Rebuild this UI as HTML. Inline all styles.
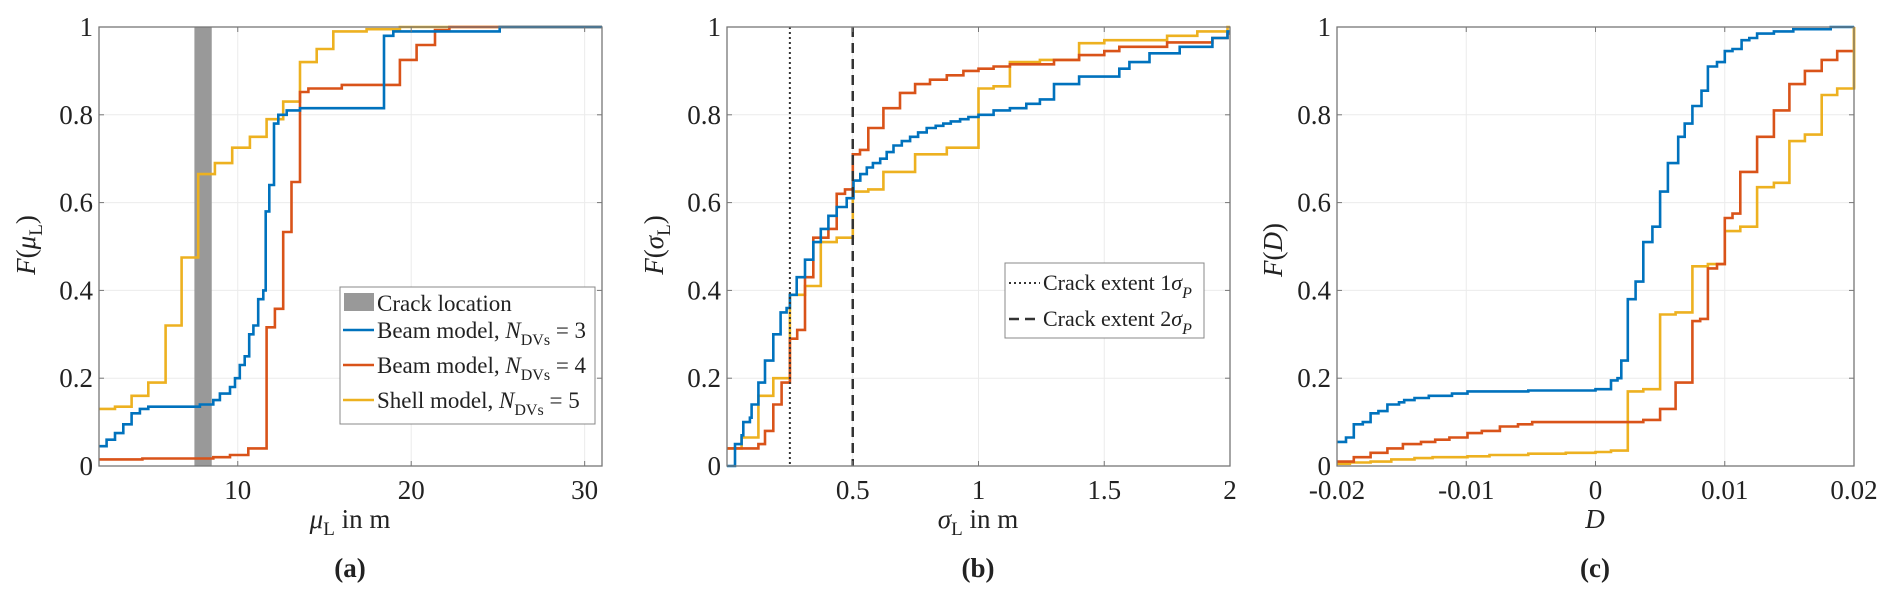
<!DOCTYPE html>
<html><head><meta charset="utf-8"><style>
body{margin:0;background:#fff}
svg{display:block}
text{font-family:"Liberation Serif",serif;fill:#222}
</style></head><body>
<svg id="fig" width="1892" height="610" viewBox="0 0 1892 610"></svg>
<script>
// ---------- data ----------
const aTicksX=[10,20,30];
const aBlueX=[2,2.44,2.92,3.4,3.88,4.36,4.84,7.82,8.59,8.97,9.55,9.84,10.12,10.4,10.66,10.9,11.18,11.47,11.61,11.82,12.09,12.34,12.82,13.59,18.43,18.97,25.1];
const aBlueF=[0.045,0.06,0.075,0.095,0.12,0.13,0.135,0.14,0.15,0.165,0.18,0.2,0.23,0.25,0.30,0.32,0.38,0.40,0.58,0.64,0.78,0.80,0.81,0.815,0.98,0.99,1.0];
const aRedX=[2,4.5,8.59,9.55,10.61,11.66,12.14,12.62,13.1,13.59,14.07,16,19.35,20.31,21.37,22.2];
const aRedF=[0.015,0.017,0.02,0.025,0.04,0.316,0.358,0.533,0.647,0.852,0.86,0.868,0.925,0.959,0.993,1.0];
const aYelX=[2,2.92,3.88,4.84,5.84,6.76,7.72,8.68,9.68,10.7,11.66,12.62,13.59,14.55,15.51,17.43,19.35];
const aYelF=[0.13,0.135,0.16,0.19,0.32,0.475,0.665,0.69,0.725,0.75,0.79,0.83,0.92,0.95,0.99,0.995,1.0];
const crackBand=[7.5,8.5];

const bTicksX=[0.5,1,1.5,2];
const bBlueX=[0,0.032,0.058,0.065,0.091,0.098,0.125,0.151,0.184,0.213,0.237,0.25,0.277,0.31,0.343,0.373,0.403,0.436,0.476,0.503,0.53,0.556,0.58,0.609,0.635,0.662,0.695,0.728,0.76,0.794,0.83,0.86,0.89,0.927,0.96,1.0,1.06,1.125,1.19,1.244,1.30,1.40,1.56,1.6,1.68,1.8,1.93,1.99];
const bBlueF=[0,0.05,0.07,0.1,0.11,0.14,0.19,0.24,0.30,0.35,0.36,0.39,0.43,0.47,0.51,0.54,0.57,0.59,0.61,0.65,0.665,0.68,0.69,0.70,0.715,0.73,0.74,0.75,0.76,0.77,0.775,0.78,0.785,0.79,0.795,0.80,0.81,0.815,0.825,0.835,0.87,0.887,0.905,0.92,0.94,0.955,0.975,0.99];
const bRedX=[0,0.125,0.151,0.184,0.217,0.25,0.279,0.31,0.343,0.403,0.436,0.469,0.5,0.529,0.562,0.622,0.688,0.748,0.807,0.874,0.94,1.0,1.06,1.125,1.3,1.40,1.50,1.56,1.75,1.93,1.99];
const bRedF=[0.04,0.05,0.08,0.14,0.19,0.29,0.31,0.43,0.52,0.54,0.62,0.63,0.71,0.72,0.77,0.815,0.85,0.87,0.88,0.89,0.90,0.905,0.91,0.915,0.925,0.936,0.945,0.955,0.965,0.975,0.985];
const bYelX=[0,0.058,0.125,0.184,0.25,0.31,0.373,0.436,0.5,0.562,0.622,0.748,0.874,1.0,1.06,1.125,1.244,1.40,1.5,1.75,1.87,1.99];
const bYelF=[0.04,0.065,0.16,0.20,0.39,0.41,0.51,0.52,0.625,0.63,0.67,0.71,0.725,0.86,0.865,0.92,0.925,0.963,0.97,0.98,0.99,1.0];
const crackExtent=[0.25,0.5];

const cTicksX=[-0.02,-0.01,0,0.01,0.02];
const cBlueX=[-0.02,-0.0193,-0.0187,-0.018,-0.0174,-0.0168,-0.0161,-0.0152,-0.0148,-0.014,-0.0129,-0.0111,-0.0099,-0.0052,0.0,0.0012,0.0017,0.0020,0.0025,0.0031,0.0037,0.0044,0.005,0.0056,0.0064,0.0069,0.0075,0.0082,0.0087,0.0094,0.01,0.0106,0.0113,0.0119,0.0125,0.0138,0.0153,0.0182];
const cBlueF=[0.055,0.065,0.095,0.10,0.12,0.125,0.14,0.145,0.15,0.155,0.16,0.165,0.17,0.172,0.175,0.195,0.2,0.24,0.38,0.42,0.51,0.545,0.625,0.69,0.75,0.78,0.82,0.855,0.91,0.92,0.945,0.95,0.97,0.975,0.985,0.99,0.995,1.0];
const cRedX=[-0.02,-0.0187,-0.0174,-0.0161,-0.0149,-0.0135,-0.0124,-0.0113,-0.0099,-0.0088,-0.0074,-0.006,-0.0049,0.0037,0.005,0.0062,0.0075,0.0081,0.0087,0.0094,0.01,0.0106,0.0112,0.0125,0.0138,0.015,0.0162,0.0175,0.0187];
const cRedF=[0.01,0.02,0.03,0.04,0.05,0.055,0.06,0.065,0.075,0.08,0.09,0.095,0.1,0.105,0.13,0.19,0.33,0.335,0.45,0.46,0.565,0.575,0.67,0.75,0.81,0.87,0.9,0.925,0.945];
const cYelX=[-0.02,-0.019,-0.0174,-0.0158,-0.014,-0.0126,-0.0099,-0.0082,-0.0052,-0.0023,0.0,0.0012,0.0025,0.0037,0.005,0.0062,0.0075,0.0087,0.01,0.0112,0.0125,0.0138,0.015,0.0162,0.0175,0.0187,0.02];
const cYelF=[0.005,0.008,0.01,0.015,0.018,0.02,0.022,0.025,0.028,0.03,0.032,0.035,0.17,0.175,0.345,0.35,0.455,0.46,0.535,0.545,0.635,0.645,0.74,0.755,0.845,0.86,1.0];

const yTicks=[0,0.2,0.4,0.6,0.8,1];
const yTickLabels=["0","0.2","0.4","0.6","0.8","1"];

const BLUE="#0072BD",RED="#D95319",YEL="#EDB120";
const NS="http://www.w3.org/2000/svg";
const svg=document.getElementById('fig');
function mk(tag,attrs,parent){const e=document.createElementNS(NS,tag);for(const k in attrs)e.setAttribute(k,attrs[k]);(parent||svg).appendChild(e);return e;}

const TOP=27,BOT=466,FS=27;
function panel(id,left,right,xmin,xmax,xticks,xfmt){
  const g=mk('g',{});
  
  
  const sx=v=>left+(v-xmin)/(xmax-xmin)*(right-left);
  const sy=v=>BOT-v*(BOT-TOP);
  yTicks.forEach(t=>{const l=mk('line',{x1:left,x2:right,y1:sy(t),y2:sy(t),stroke:'#ebebeb','stroke-width':1},g);
    });
  xticks.forEach(t=>{const l=mk('line',{x1:sx(t),x2:sx(t),y1:TOP,y2:BOT,stroke:'#ebebeb','stroke-width':1},g);
    });
  return {g,sx,sy,left,right,xticks,xfmt};
}
function frame(p){
  const {g,sx,sy,left,right,xticks,xfmt}=p;
  const r=mk('rect',{x:left,y:TOP,width:right-left,height:BOT-TOP,fill:'none',stroke:'#777','stroke-width':1.3},g);
  
  yTicks.forEach((t,i)=>{
    mk('line',{x1:left,x2:left+5,y1:sy(t),y2:sy(t),stroke:'#777'},g);
    mk('line',{x1:right,x2:right-5,y1:sy(t),y2:sy(t),stroke:'#777'},g);
    const tx=mk('text',{x:left-6,y:sy(t)+9,'text-anchor':'end','font-size':FS},g);
    tx.textContent=yTickLabels[i];
    
  });
  xticks.forEach(t=>{
    mk('line',{x1:sx(t),x2:sx(t),y1:BOT,y2:BOT-5,stroke:'#777'},g);
    mk('line',{x1:sx(t),x2:sx(t),y1:TOP,y2:TOP+5,stroke:'#777'},g);
    const tx=mk('text',{x:sx(t),y:BOT+33,'text-anchor':'middle','font-size':FS},g);
    tx.textContent=xfmt(t);
    
  });
}
function stairs(p,xs,fs,xmaxv,color,name){
  let d='';
  for(let i=0;i<xs.length;i++){
    const x0=p.sx(xs[i]),y=p.sy(fs[i]);
    const x1=p.sx(i+1<xs.length?xs[i+1]:xmaxv);
    d+=(i===0?'M':'L')+x0.toFixed(1)+','+y.toFixed(1)+'L'+x1.toFixed(1)+','+y.toFixed(1);
  }
  const e=mk('path',{d:d,fill:'none',stroke:color,'stroke-width':2.6},p.g);
  
  
}
function label(x,y,html,size,name,rot,weight){
  const t=mk('text',{x:x,y:y,'text-anchor':'middle','font-size':size});
  if(rot)t.setAttribute('transform','rotate(-90 '+x+' '+y+')');
  if(weight)t.setAttribute('font-weight',weight);
  t.innerHTML=html;
  
  
  return t;
}

// ---------- panel a ----------
const pa=panel('panel-a',99,602,2,31,aTicksX,v=>String(v));
const band=mk('rect',{x:pa.sx(crackBand[0]),y:TOP,width:pa.sx(crackBand[1])-pa.sx(crackBand[0]),height:BOT-TOP,fill:'#999'},pa.g);

stairs(pa,aYelX,aYelF,31,YEL,'shell-model-ndv5-line');
stairs(pa,aRedX,aRedF,31,RED,'beam-model-ndv4-line');
stairs(pa,aBlueX,aBlueF,31,BLUE,'beam-model-ndv3-line');
frame(pa);
label(35,245,'<tspan font-style="italic">F</tspan>(<tspan font-style="italic">μ</tspan><tspan font-size="19" dy="7">L</tspan><tspan dy="-7">)</tspan>',FS,'y-axis-title-a',true);
label(350,528,'<tspan font-style="italic">μ</tspan><tspan font-size="19" dy="7">L</tspan><tspan dy="-7"> in m</tspan>',FS,'x-axis-title-a');
label(350,577,'(a)',FS,'panel-label-a',false,'bold');
// legend a
const la=mk('g',{});
mk('rect',{x:340,y:287,width:255,height:137,fill:'#fff',stroke:'#888','stroke-width':1},la);
mk('rect',{x:344,y:293,width:30,height:18,fill:'#999'},la);
const legA=[['Crack location',null,303],['Beam model, ',BLUE,330,'3'],['Beam model, ',RED,365,'4'],['Shell model, ',YEL,400,'5']];
legA.forEach(e=>{
  if(e[1])mk('line',{x1:343,x2:374,y1:e[2],y2:e[2],stroke:e[1],'stroke-width':2.6},la);
  const t=mk('text',{x:377,y:e[2]+8,'font-size':23},la);
  t.innerHTML=e[3]?e[0]+'<tspan font-style="italic">N</tspan><tspan font-size="16" dy="7">DVs</tspan><tspan dy="-7"> = '+e[3]+'</tspan>':e[0];
  
});

// ---------- panel b ----------
const pb=panel('panel-b',727,1230,0,2,bTicksX,v=>String(v));
stairs(pb,bYelX,bYelF,2,YEL,'shell-model-line-b');
stairs(pb,bRedX,bRedF,2,RED,'beam-model-ndv4-line-b');
stairs(pb,bBlueX,bBlueF,2,BLUE,'beam-model-ndv3-line-b');
const v1=mk('line',{x1:pb.sx(crackExtent[0]),x2:pb.sx(crackExtent[0]),y1:TOP,y2:BOT,stroke:'#333','stroke-width':2,'stroke-dasharray':'2,3'},pb.g);

const v2=mk('line',{x1:pb.sx(crackExtent[1]),x2:pb.sx(crackExtent[1]),y1:TOP,y2:BOT,stroke:'#333','stroke-width':2.5,'stroke-dasharray':'10,6'},pb.g);

frame(pb);
label(663,245,'<tspan font-style="italic">F</tspan>(<tspan font-style="italic">σ</tspan><tspan font-size="19" dy="7">L</tspan><tspan dy="-7">)</tspan>',FS,'y-axis-title-b',true);
label(978,528,'<tspan font-style="italic">σ</tspan><tspan font-size="19" dy="7">L</tspan><tspan dy="-7"> in m</tspan>',FS,'x-axis-title-b');
label(978,577,'(b)',FS,'panel-label-b',false,'bold');
const lb=mk('g',{});
mk('rect',{x:1005,y:263,width:199,height:75,fill:'#fff',stroke:'#888','stroke-width':1},lb);
mk('line',{x1:1009,x2:1040,y1:283,y2:283,stroke:'#333','stroke-width':2,'stroke-dasharray':'2,3'},lb);
mk('line',{x1:1009,x2:1040,y1:319,y2:319,stroke:'#333','stroke-width':2.5,'stroke-dasharray':'10,6'},lb);
[['1',283],['2',319]].forEach(e=>{
  const t=mk('text',{x:1043,y:e[1]+7,'font-size':22},lb);
  t.innerHTML='Crack extent '+e[0]+'<tspan font-style="italic">σ</tspan><tspan font-style="italic" font-size="16" dy="8">P</tspan>';
  
});

// ---------- panel c ----------
const pc=panel('panel-c',1337,1854,-0.02,0.02,cTicksX,v=>v===0?'0':String(v));
stairs(pc,cYelX,cYelF,0.02,YEL,'shell-model-line-c');
stairs(pc,cRedX,cRedF,0.02,RED,'beam-model-ndv4-line-c');
stairs(pc,cBlueX,cBlueF,0.02,BLUE,'beam-model-ndv3-line-c');
const yv=mk('line',{x1:1854,x2:1854,y1:pc.sy(0.86),y2:pc.sy(1),stroke:YEL,'stroke-width':2.6},pc.g);

frame(pc);
label(1282,250,'<tspan font-style="italic">F</tspan>(<tspan font-style="italic">D</tspan>)',FS,'y-axis-title-c',true);
label(1595,528,'<tspan font-style="italic">D</tspan>',FS,'x-axis-title-c');
label(1595,577,'(c)',FS,'panel-label-c',false,'bold');
</script>
</body></html>
